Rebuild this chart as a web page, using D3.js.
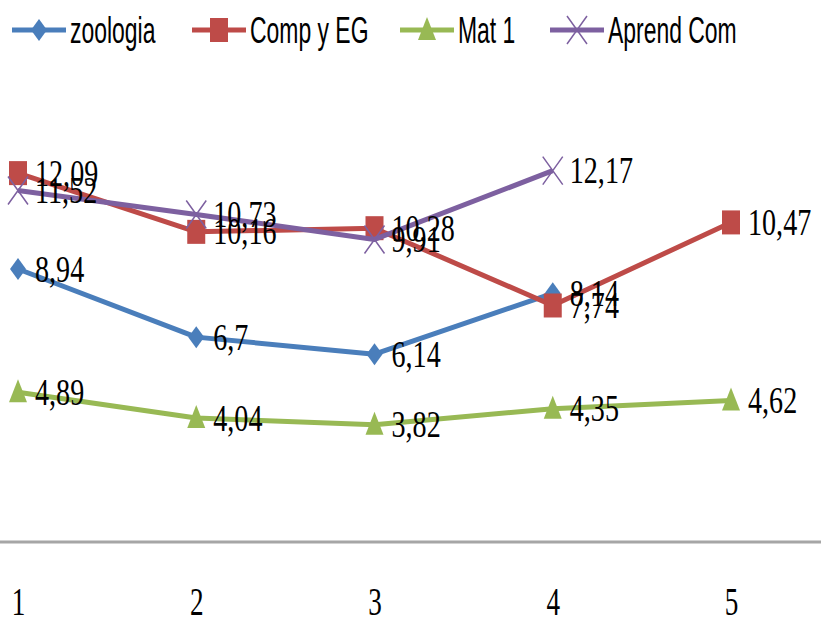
<!DOCTYPE html>
<html><head><meta charset="utf-8">
<script src="https://cdn.jsdelivr.net/npm/d3@7/dist/d3.min.js"></script>
<style>body{margin:0;background:#fff}svg{display:block}</style>
</head><body>
<svg id="c" width="821" height="622"></svg>
<script>
const categories = [1, 2, 3, 4, 5];
const zoologia = [8.94, 6.7, 6.14, 8.14, null];
const compYEG = [12.09, 10.16, 10.28, 7.74, 10.47];
const mat1 = [4.89, 4.04, 3.82, 4.35, 4.62];
const aprendCom = [11.52, 10.73, 9.91, 12.17, null];
const seriesNames = ["zoologia", "Comp y EG", "Mat 1", "Aprend Com"];
const seriesColors = ["#4a7ebb", "#be4b48", "#98b954", "#7d60a0"];
const seriesMarkers = ["diamond", "square", "triangle", "x"];
const seriesValues = [zoologia, compYEG, mat1, aprendCom];

const svg = d3.select("#c");
const x = d3.scalePoint().domain(categories).range([18, 731]);
const y = d3.scaleLinear().domain([0, 14]).range([541, 115]);

// axis line
svg.append("line").attr("x1", 0).attr("x2", 821).attr("y1", y(0) + 1).attr("y2", y(0) + 1)
  .attr("stroke", "#a6a6a6").attr("stroke-width", 3);

// x tick labels
const xAxis = d3.axisBottom(x).tickSize(0).tickPadding(0);
const gx = svg.append("g").attr("transform", `translate(0,${y(0)})`).call(xAxis);
gx.select(".domain").remove();
gx.selectAll(".tick text").attr("y", 0).attr("dy", 0)
  .attr("font-family", "Liberation Serif").attr("font-size", 40).attr("fill", "#000")
  .attr("text-anchor", "middle")
  .attr("transform", "translate(0,74) scale(0.68,1)");

function marker(g, type, color, cx, cy) {
  if (type === "diamond") {
    g.append("path").attr("d", `M${cx},${cy - 11}L${cx + 8},${cy}L${cx},${cy + 11}L${cx - 8},${cy}Z`).attr("fill", color);
  } else if (type === "square") {
    g.append("rect").attr("x", cx - 9).attr("y", cy - 12).attr("width", 18).attr("height", 24).attr("fill", color);
  } else if (type === "triangle") {
    g.append("path").attr("d", `M${cx},${cy - 13}L${cx + 9},${cy + 10}L${cx - 9},${cy + 10}Z`).attr("fill", color);
  } else {
    g.append("path").attr("d", `M${cx - 10},${cy - 14}L${cx + 10},${cy + 14}M${cx + 10},${cy - 14}L${cx - 10},${cy + 14}`)
      .attr("stroke", color).attr("stroke-width", 1.5).attr("fill", "none");
  }
}

const line = d3.line().defined(d => d.v != null).x(d => x(d.c)).y(d => y(d.v));
seriesValues.forEach((vals, i) => {
  const data = categories.map((c, j) => ({c, v: vals[j]}));
  const g = svg.append("g");
  g.append("path").datum(data).attr("d", line).attr("fill", "none")
    .attr("stroke", seriesColors[i]).attr("stroke-width", 5).attr("stroke-linejoin", "round");
  data.filter(d => d.v != null).forEach(d => marker(g, seriesMarkers[i], seriesColors[i], x(d.c), y(d.v)));
});
// data labels
seriesValues.forEach((vals, i) => {
  categories.forEach((c, j) => {
    if (vals[j] == null) return;
    svg.append("text")
      .attr("transform", `translate(${x(c) + 17},${y(vals[j])}) scale(0.76,1)`)
      .attr("dy", "0.34em")
      .attr("font-family", "Liberation Serif").attr("font-size", 37).attr("fill", "#000")
      .text(String(vals[j]).replace(".", ","));
  });
});

// legend
const legendX = [12, 192, 400, 550];
seriesNames.forEach((n, i) => {
  const g = svg.append("g");
  const lx = legendX[i], ly = 30;
  g.append("line").attr("x1", lx).attr("x2", lx + 54).attr("y1", ly).attr("y2", ly)
    .attr("stroke", seriesColors[i]).attr("stroke-width", 5);
  marker(g, seriesMarkers[i], seriesColors[i], lx + 27, ly);
  g.append("text").attr("transform", `translate(${lx + 58},${ly}) scale(0.62,1)`)
    .attr("dy", "0.36em").attr("font-family", "Liberation Sans").attr("font-size", 37).attr("fill", "#000")
    .text(n);
});
</script>
</body></html>
